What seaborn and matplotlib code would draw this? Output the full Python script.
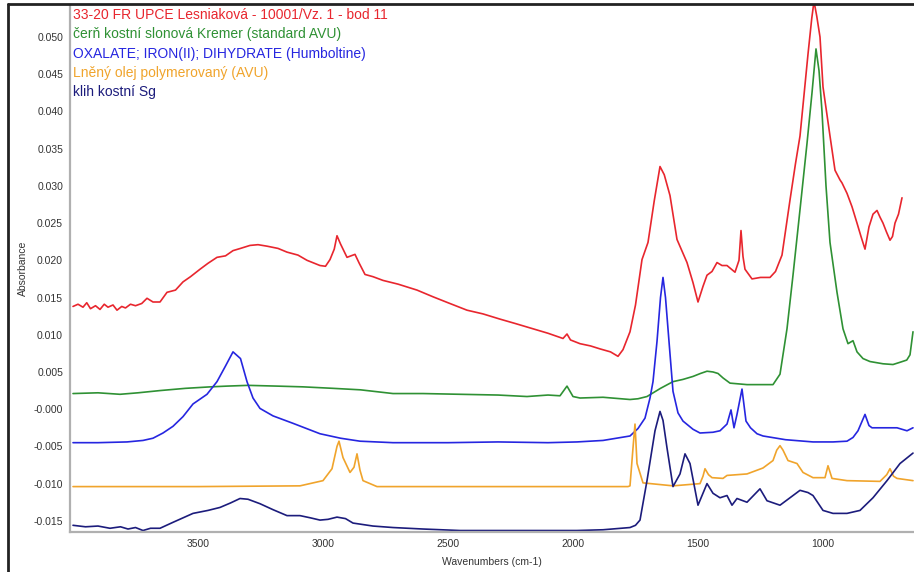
import numpy as np
import pandas as pd
import matplotlib
matplotlib.use("Agg")
import matplotlib.pyplot as plt
from matplotlib.lines import Line2D
import seaborn as sns

# spectra (wavenumber, absorbance)
red_wn = [4000, 3980, 3960, 3945, 3930, 3910, 3892, 3875, 3860, 3840, 3824, 3805, 3790, 3770,
          3750, 3725, 3704, 3680, 3652, 3624, 3590, 3560, 3530, 3492, 3460, 3424, 3390, 3360,
          3330, 3292, 3260, 3224, 3180, 3144, 3100, 3064, 3012, 2990, 2972, 2955, 2944, 2930,
          2904, 2872, 2855, 2832, 2800, 2760, 2700, 2624, 2560, 2500, 2424, 2360, 2292, 2230,
          2160, 2100, 2040, 2024, 2010, 1972, 1930, 1892, 1850, 1820, 1800, 1772, 1750, 1724,
          1700, 1675, 1652, 1635, 1612, 1584, 1544, 1520, 1500, 1480, 1464, 1444, 1424, 1404,
          1384, 1352, 1336, 1328, 1320, 1312, 1284, 1250, 1212, 1190, 1164, 1132, 1110, 1092,
          1060, 1045, 1036, 1025, 1012, 1000, 972, 952, 932, 924, 904, 884, 864, 848, 832, 816,
          800, 784, 772, 760, 746, 732, 722, 712, 698, 684]
red_abs = [0.0138, 0.0141, 0.0137, 0.0143, 0.0135, 0.0139, 0.0134, 0.0141, 0.0137, 0.0140,
           0.0133, 0.0138, 0.0136, 0.0141, 0.0139, 0.0142, 0.0149, 0.0144, 0.0144, 0.0157,
           0.0160, 0.0171, 0.0178, 0.0188, 0.0196, 0.0204, 0.0206, 0.0213, 0.0216, 0.0220,
           0.0221, 0.0219, 0.0216, 0.0211, 0.0207, 0.0200, 0.0193, 0.0192, 0.0201, 0.0215,
           0.0233, 0.0222, 0.0204, 0.0208, 0.0196, 0.0181, 0.0178, 0.0173, 0.0168, 0.0160,
           0.0151, 0.0143, 0.0133, 0.0128, 0.0121, 0.0115, 0.0108, 0.0102, 0.0095, 0.0101,
           0.0093, 0.0088, 0.0085, 0.0081, 0.0077, 0.0071, 0.0080, 0.0104, 0.0140, 0.0201,
           0.0224, 0.0280, 0.0326, 0.0315, 0.0287, 0.0228, 0.0197, 0.0170, 0.0144, 0.0165,
           0.0180, 0.0185, 0.0197, 0.0193, 0.0193, 0.0184, 0.0200, 0.0240, 0.0205, 0.0188,
           0.0175, 0.0177, 0.0177, 0.0185, 0.0207, 0.0281, 0.0330, 0.0367, 0.0477, 0.0525,
           0.0548, 0.0528, 0.0500, 0.0433, 0.0367, 0.0321, 0.0308, 0.0304, 0.0290, 0.0272,
           0.0250, 0.0232, 0.0215, 0.0245, 0.0262, 0.0267, 0.0258, 0.0250, 0.0238, 0.0227,
           0.0232, 0.0250, 0.0262, 0.0284]

green_wn = [4000, 3900, 3812, 3740, 3652, 3550, 3450, 3384, 3300, 3184, 3080, 2960, 2850,
            2720, 2600, 2452, 2300, 2184, 2100, 2052, 2024, 2000, 1972, 1880, 1772, 1740,
            1704, 1650, 1600, 1560, 1520, 1490, 1464, 1440, 1420, 1400, 1372, 1304, 1240,
            1200, 1172, 1144, 1120, 1092, 1064, 1044, 1028, 1016, 1004, 988, 972, 944, 920,
            900, 880, 864, 840, 812, 760, 720, 692, 665, 652, 640]
green_abs = [0.0021, 0.0022, 0.0020, 0.0022, 0.0025, 0.0028, 0.0030, 0.0031, 0.0032, 0.0031,
             0.0030, 0.0028, 0.0026, 0.0021, 0.0021, 0.0020, 0.0019, 0.0017, 0.0019, 0.0018,
             0.0031, 0.0017, 0.0015, 0.0016, 0.0013, 0.0014, 0.0017, 0.0028, 0.0037, 0.0040,
             0.0044, 0.0048, 0.0051, 0.0050, 0.0048, 0.0042, 0.0035, 0.0033, 0.0033, 0.0033,
             0.0047, 0.0108, 0.0180, 0.0268, 0.0357, 0.0425, 0.0484, 0.0455, 0.0400, 0.0300,
             0.0224, 0.0157, 0.0108, 0.0088, 0.0092, 0.0077, 0.0068, 0.0064, 0.0061, 0.0060,
             0.0063, 0.0066, 0.0073, 0.0104]

blue_wn = [4000, 3900, 3784, 3720, 3680, 3640, 3600, 3560, 3520, 3464, 3424, 3390, 3360,
           3330, 3304, 3280, 3252, 3200, 3120, 3012, 2930, 2852, 2720, 2500, 2300, 2100,
           1984, 1880, 1772, 1740, 1712, 1692, 1680, 1664, 1650, 1640, 1630, 1616, 1600,
           1580, 1560, 1520, 1492, 1440, 1412, 1384, 1368, 1356, 1344, 1324, 1308, 1290,
           1264, 1240, 1150, 1040, 960, 904, 880, 860, 832, 816, 804, 760, 704, 664, 640]
blue_abs = [-0.0045, -0.0045, -0.0044, -0.0042, -0.0039, -0.0032, -0.0023, -0.0010, 0.0007,
            0.0020, 0.0037, 0.0058, 0.0077, 0.0068, 0.0037, 0.0015, 0.0001, -0.0009, -0.0019,
            -0.0033, -0.0039, -0.0043, -0.0045, -0.0045, -0.0044, -0.0045, -0.0044, -0.0042,
            -0.0036, -0.0026, -0.0012, 0.0015, 0.0037, 0.0091, 0.0150, 0.0177, 0.0150, 0.0091,
            0.0024, -0.0005, -0.0016, -0.0027, -0.0032, -0.0031, -0.0029, -0.0020, -0.0001,
            -0.0025, -0.0007, 0.0027, -0.0016, -0.0025, -0.0033, -0.0036, -0.0041, -0.0044,
            -0.0044, -0.0043, -0.0038, -0.0029, -0.0007, -0.0022, -0.0025, -0.0025, -0.0025,
            -0.0029, -0.0025]

orange_wn = [4000, 3500, 3092, 3000, 2964, 2944, 2936, 2920, 2892, 2876, 2864, 2852, 2840,
             2784, 2400, 2000, 1780, 1772, 1760, 1752, 1744, 1720, 1600, 1492, 1480, 1472,
             1458, 1444, 1400, 1384, 1304, 1240, 1200, 1185, 1172, 1160, 1140, 1104, 1080,
             1040, 992, 980, 964, 904, 772, 745, 732, 718, 704, 640]
orange_abs = [-0.0104, -0.0104, -0.0103, -0.0096, -0.0080, -0.0050, -0.0043, -0.0065, -0.0085,
              -0.0078, -0.0060, -0.0082, -0.0096, -0.0104, -0.0104, -0.0104, -0.0104, -0.0103,
              -0.0052, -0.0020, -0.0073, -0.0099, -0.0103, -0.0100, -0.0090, -0.0080, -0.0088,
              -0.0092, -0.0093, -0.0089, -0.0087, -0.0079, -0.0069, -0.0055, -0.0049, -0.0055,
              -0.0069, -0.0073, -0.0085, -0.0092, -0.0092, -0.0076, -0.0093, -0.0096, -0.0097,
              -0.0088, -0.0080, -0.0090, -0.0093, -0.0096]

navy_wn = [4000, 3950, 3900, 3852, 3810, 3780, 3750, 3720, 3690, 3652, 3600, 3520, 3460,
           3412, 3370, 3332, 3300, 3252, 3200, 3144, 3092, 3050, 3012, 2980, 2944, 2910,
           2880, 2800, 2720, 2600, 2452, 2200, 1984, 1880, 1772, 1750, 1732, 1704, 1672,
           1652, 1640, 1624, 1600, 1572, 1552, 1532, 1500, 1464, 1440, 1412, 1384, 1364,
           1344, 1304, 1252, 1224, 1172, 1132, 1092, 1060, 1040, 1000, 960, 904, 852, 800,
           744, 692, 640]
navy_abs = [-0.0156, -0.0158, -0.0157, -0.0160, -0.0158, -0.0161, -0.0159, -0.0163, -0.0160,
            -0.0160, -0.0152, -0.0140, -0.0136, -0.0132, -0.0126, -0.0120, -0.0121, -0.0127,
            -0.0135, -0.0143, -0.0143, -0.0146, -0.0149, -0.0148, -0.0145, -0.0147, -0.0153,
            -0.0157, -0.0159, -0.0161, -0.0163, -0.0163, -0.0163, -0.0162, -0.0159, -0.0156,
            -0.0149, -0.0096, -0.0029, -0.0003, -0.0015, -0.0052, -0.0104, -0.0087, -0.0060,
            -0.0073, -0.0129, -0.0100, -0.0113, -0.0119, -0.0116, -0.0129, -0.0120, -0.0125,
            -0.0107, -0.0123, -0.0129, -0.0119, -0.0109, -0.0112, -0.0116, -0.0136, -0.0140,
            -0.0140, -0.0136, -0.0119, -0.0096, -0.0073, -0.0059]

names = ["33-20 FR UPCE Lesniaková - 10001/Vz. 1 - bod 11",
         "čerň kostní slonová Kremer (standard AVU)",
         "OXALATE; IRON(II); DIHYDRATE (Humboltine)",
         "Lněný olej polymerovaný (AVU)",
         "klih kostní Sg"]
colors = ["#e8262e", "#2f9134", "#2626e0", "#f0a42c", "#1c1c7c"]

yticks = [0.050, 0.045, 0.040, 0.035, 0.030, 0.025, 0.020, 0.015, 0.010, 0.005,
          0.000, -0.005, -0.010, -0.015]
ytick_labels = ["0.050", "0.045", "0.040", "0.035", "0.030", "0.025", "0.020", "0.015",
                "0.010", "0.005", "-0.000", "-0.005", "-0.010", "-0.015"]
xticks = [3500, 3000, 2500, 2000, 1500, 1000]

frames = []
for name, wn, ab in zip(names, [red_wn, green_wn, blue_wn, orange_wn, navy_wn],
                        [red_abs, green_abs, blue_abs, orange_abs, navy_abs]):
    frames.append(pd.DataFrame({"wn": wn, "abs": ab, "spectrum": name}))
df = pd.concat(frames, ignore_index=True)

sns.set_style("white")
plt.rcParams["font.family"] = ["Liberation Sans", "DejaVu Sans"]

W, H = 914, 572
fig = plt.figure(figsize=(W / 100, H / 100), dpi=100)
ax = fig.add_axes([70 / W, 1 - 532 / H, 1 - 70 / W, (532 - 5) / H])

sns.lineplot(data=df, x="wn", y="abs", hue="spectrum", palette=colors, hue_order=names,
             estimator=None, sort=False, linewidth=1.2, legend=False, ax=ax)

ax.set_xlim(4012, 636)
ax.set_ylim(-0.0165, 0.0543)
ax.set_xticks(xticks)
ax.set_yticks(yticks)
ax.set_yticklabels(ytick_labels)
ax.tick_params(axis="both", labelsize=7.5, colors="#999999", labelcolor="#333333",
               length=3, width=0.8, direction="out", pad=2)
for side in ["top", "right"]:
    ax.spines[side].set_visible(False)
for side in ["left", "bottom"]:
    ax.spines[side].set_color("#b0b0b0")
    ax.spines[side].set_linewidth(1.6)
ax.set_xlabel("Wavenumbers (cm-1)", fontsize=7.5, color="#333333", labelpad=6)
ax.set_ylabel("Absorbance", fontsize=7.5, color="#333333", labelpad=4)

# legend as coloured text lines
for i, (name, c) in enumerate(zip(names, colors)):
    fig.text(73 / W, 1 - (15 + 19.3 * i) / H, name, color=c, fontsize=10,
             va="center", ha="left")

# outer black frame
fig.add_artist(Line2D([8 / W, 8 / W], [0, 1 - 4 / H], color="#222222", lw=2,
                      transform=fig.transFigure))
fig.add_artist(Line2D([8 / W, 1], [1 - 4 / H, 1 - 4 / H], color="#222222", lw=2,
                      transform=fig.transFigure))

fig.savefig("out.png", dpi=100)
